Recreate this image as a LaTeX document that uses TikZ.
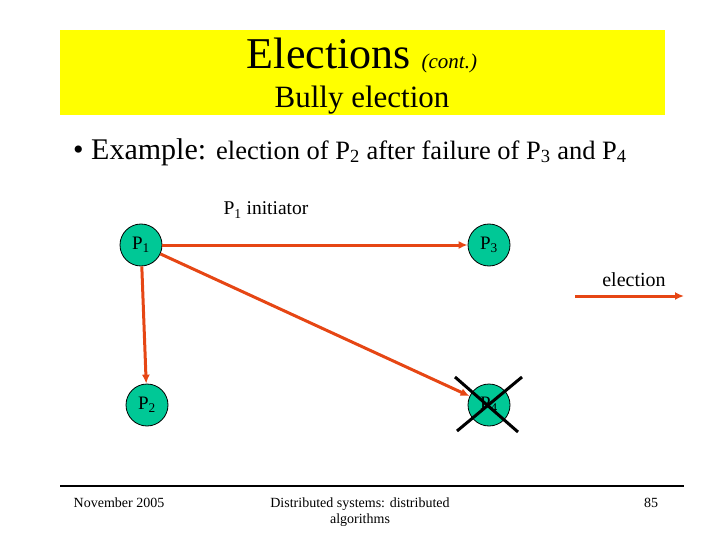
\documentclass[tikz,border=0pt]{standalone}
\usepackage{fontspec}
\setmainfont{Liberation Serif}
\usetikzlibrary{arrows.meta}
\definecolor{ban}{RGB}{255,255,0}
\definecolor{nodeg}{RGB}{0,200,150}
\definecolor{arr}{RGB}{230,70,20}
\newcommand{\sbs}[1]{\textsubscript{#1}}
\begin{document}
\begin{tikzpicture}[x=1pt,y=-1pt,
  proc/.style={circle,draw=black,line width=0.8pt,fill=nodeg,minimum size=42pt,inner sep=0pt,font=\fontsize{19}{19}\selectfont},
  msg/.style={draw=arr,line width=3pt,-{Latex[length=9pt,width=8pt]}},
  foot/.style={font=\fontsize{14}{16}\selectfont,align=center}]
\useasboundingbox (0,0) rectangle (720,540);
\fill[ban] (60,30) rectangle (665,115);
\node (t1) at (362,55) {\fontsize{44}{44}\selectfont Elections \fontsize{21}{21}\selectfont\itshape (cont.)};
\node (t2) at (362,100) {\fontsize{31}{31}\selectfont Bully election};
\node[anchor=west,inner sep=0pt] (b) at (73,152) {\fontsize{30}{30}\selectfont • Example: \fontsize{26.5}{26.5}\selectfont election of P\sbs{2} after failure of P\sbs{3} and P\sbs{4}};
\node (ini) at (266,210) {\fontsize{19.5}{19.5}\selectfont P\sbs{1} initiator};
\node[proc] (p1) at (141,245) {P\sbs{1}};
\node[proc] (p3) at (489,245) {P\sbs{3}};
\node[proc] (p2) at (147,405) {P\sbs{2}};
\node[proc] (p4) at (489,405) {P\sbs{4}};
\draw[msg] (p1) -- (p3);
\draw[msg] (p1) -- (p2);
\draw[msg] (p1) -- (p4);
\coordinate (c1) at (455,377); \coordinate (c2) at (518,432);
\coordinate (c3) at (522,377); \coordinate (c4) at (457,431);
\draw[line width=3pt] (c1) -- (c2);
\draw[line width=3pt] (c3) -- (c4);
\node (el) at (634,280) {\fontsize{20}{20}\selectfont election};
\coordinate (e1) at (575,296); \coordinate (e2) at (684,296);
\draw[msg] (e1) -- (e2);
\coordinate (f1) at (60,486); \coordinate (f2) at (684,486);
\draw[line width=2pt] (f1) -- (f2);
\node[foot] (n1) at (119,503) {November 2005};
\node[foot] (n2) at (360,512) {Distributed systems: distributed\\algorithms};
\node[foot] (n3) at (651,503) {85};
\end{tikzpicture}
\end{document}
